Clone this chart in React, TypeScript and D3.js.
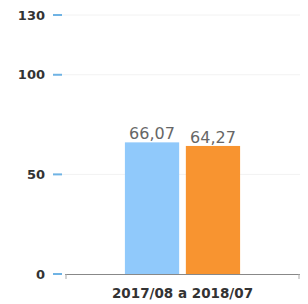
import React, { useRef, useEffect } from 'react';
import * as d3 from 'd3';

const categories = ['2017/08 a 2018/07'];
const seriesNames = ['A', 'B'];
const seriesValues = [66.07, 64.27];
const seriesColors = ['#90c9fb', '#f89430'];
const yTicks = [0, 50, 100, 130];

const width = 308;
const height = 304;

const App: React.FC = () => {
  const svgRef = useRef<SVGSVGElement>(null);

  useEffect(() => {
    if (!svgRef.current) return;
    const svg = d3.select(svgRef.current);
    svg.selectAll('*').remove();

    const margin = { top: 15, right: 8, bottom: 30, left: 65 };
    const bottom = height - margin.bottom;

    const y = d3.scaleLinear().domain([0, 130]).range([bottom, margin.top]);

    const x = d3.scaleBand()
      .domain(categories)
      .range([margin.left, width - margin.right])
      .paddingOuter(0.52)
      .paddingInner(0);

    const xs = d3.scaleBand()
      .domain(seriesNames)
      .range([0, x.bandwidth()])
      .paddingInner(0.11);

    // Grid lines + tick marks
    const grid = svg.append('g');
    yTicks.forEach(t => {
      if (t !== 0) {
        grid.append('line')
          .attr('x1', 62).attr('x2', width - margin.right)
          .attr('y1', y(t)).attr('y2', y(t))
          .attr('stroke', '#f2f2f2').attr('stroke-width', 1);
      }
      grid.append('line')
        .attr('x1', 53).attr('x2', 62)
        .attr('y1', y(t)).attr('y2', y(t))
        .attr('stroke', '#6fb3e4').attr('stroke-width', 2);
      grid.append('text')
        .attr('x', 45).attr('y', y(t))
        .attr('dy', '0.35em')
        .attr('text-anchor', 'end')
        .style('font-family', 'DejaVu Sans, sans-serif')
        .style('font-size', '13px')
        .style('font-weight', 'bold')
        .style('fill', '#333')
        .text(String(t));
    });

    // X axis
    const ax = svg.append('g');
    ax.append('line')
      .attr('x1', margin.left).attr('x2', width - margin.right)
      .attr('y1', bottom + 0.5).attr('y2', bottom + 0.5)
      .attr('stroke', '#888').attr('stroke-width', 1);
    [margin.left + 1, width - margin.right - 1].forEach(px => {
      ax.append('line')
        .attr('x1', px).attr('x2', px)
        .attr('y1', bottom).attr('y2', bottom + 5)
        .attr('stroke', '#aaa');
    });

    // Bars
    const g = svg.append('g').attr('transform', `translate(${x(categories[0])},0)`);
    g.selectAll('rect')
      .data(seriesValues)
      .join('rect')
      .attr('x', (_, i) => xs(seriesNames[i]) || 0)
      .attr('y', d => y(d))
      .attr('width', xs.bandwidth())
      .attr('height', d => bottom - y(d))
      .attr('fill', (_, i) => seriesColors[i]);

    g.selectAll('.val')
      .data(seriesValues)
      .join('text')
      .attr('class', 'val')
      .attr('x', (_, i) => (xs(seriesNames[i]) || 0) + xs.bandwidth() / 2)
      .attr('y', d => y(d) - 3)
      .attr('text-anchor', 'middle')
      .style('font-family', 'DejaVu Sans, sans-serif')
      .style('font-size', '16px')
      .style('fill', '#666')
      .text(d => d3.format('.2f')(d).replace('.', ','));

    svg.append('text')
      .attr('x', (x(categories[0]) || 0) + x.bandwidth() / 2)
      .attr('y', 298)
      .attr('text-anchor', 'middle')
      .style('font-family', 'DejaVu Sans, sans-serif')
      .style('font-size', '13.5px')
      .style('font-weight', 'bold')
      .style('fill', '#333')
      .text(categories[0]);
  }, []);

  return (
    <svg
      ref={svgRef}
      width={width}
      height={height}
      style={{ position: 'absolute', top: 0, left: 0, background: '#fff' }}
    />
  );
};

export default App;
